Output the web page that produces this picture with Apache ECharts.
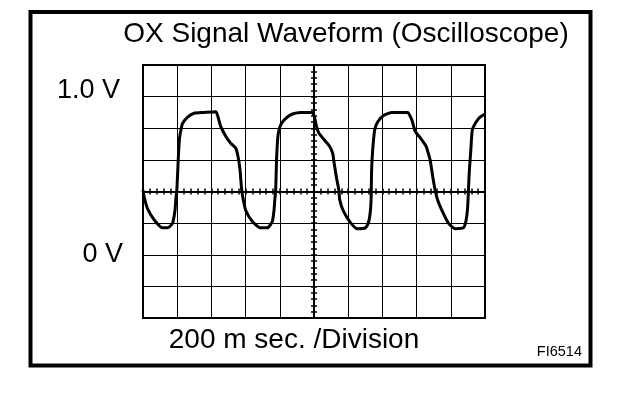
<!DOCTYPE html>
<html>
<head>
<meta charset="utf-8">
<script src="https://cdn.jsdelivr.net/npm/echarts@6/dist/echarts.min.js"></script>
<style>
html,body{margin:0;padding:0;background:#fff;}
#chart{width:624px;height:396px;}
</style>
</head>
<body>
<div id="chart"></div>
<script>
// ---- data ----
const titleText = 'OX Signal Waveform (Oscilloscope)';
const xCaption = '200 m sec. /Division';
const figId = 'FI6514';
const yLabelValues = [0, 1.0];
const yLabelTexts = ['0 V', '1.0 V'];
const timeMs = [0,8,27,66,115,144,173,187,192,198,
  206,213,222,231,261,299,357,426,
  439,455,484,513,542,556,567,577,
  586,601,640,688,727,756,766,771,776,
  781,789,801,824,863,921,990,
  1003,1015,1028,1057,1092,1110,1115,1131,1145,
  1150,1170,1209,1252,1300,1320,1330,1334,1335,
  1337,1343,1355,1372,1407,1456,1544,
  1553,1573,1592,1621,1656,1669,1679,1695,1708,
  1722,1748,1786,1825,1873,1888,1897,1901,1903,
  1909,1917,1926,1948,1971,2000];
const volts = [0.41,0.36,0.29,0.22,0.17,0.17,0.20,0.28,0.35,0.41,
  0.60,0.73,0.79,0.83,0.87,0.895,0.90,0.905,
  0.87,0.81,0.75,0.705,0.675,0.62,0.54,0.41,
  0.35,0.28,0.21,0.17,0.17,0.21,0.28,0.35,0.41,
  0.60,0.75,0.81,0.85,0.885,0.90,0.90,
  0.87,0.81,0.77,0.73,0.685,0.64,0.60,0.49,0.41,
  0.35,0.28,0.21,0.165,0.17,0.21,0.28,0.35,0.41,
  0.54,0.66,0.79,0.84,0.88,0.90,0.90,
  0.895,0.85,0.78,0.74,0.685,0.64,0.60,0.49,0.41,
  0.35,0.28,0.20,0.165,0.17,0.21,0.28,0.35,0.41,
  0.54,0.66,0.79,0.84,0.87,0.89];

const FONT = 'Liberation Sans';
const chart = echarts.init(document.getElementById('chart'), null, {renderer: 'canvas'});
const gridBox = {left: 143, top: 65, width: 342, height: 253};

function yLabel(v) {
  for (let i = 0; i < yLabelValues.length; i++) {
    if (Math.abs(v - yLabelValues[i]) < 1e-6) {
      return i === 1 ? '{up|' + yLabelTexts[i] + '}' : '{base|' + yLabelTexts[i] + '}';
    }
  }
  return '';
}

const centerAxisCommon = {
  axisLabel: {show: false},
  splitLine: {show: false},
  interval: 1
};

chart.setOption({
  animation: false,
  backgroundColor: '#fff',
  grid: [
    Object.assign({show: true, borderColor: '#000', borderWidth: 2, backgroundColor: 'transparent'}, gridBox),
    Object.assign({show: false}, gridBox),
    Object.assign({show: false}, gridBox)
  ],
  xAxis: [
    {type: 'value', gridIndex: 0, min: 0, max: 2000, interval: 200,
      axisLine: {show: false, onZero: false}, axisTick: {show: false}, axisLabel: {show: false},
      splitLine: {show: true, lineStyle: {color: '#000', width: 1}}},
    Object.assign({type: 'value', gridIndex: 1, min: -25, max: 25,
      axisLine: {show: true, onZero: true, lineStyle: {color: '#000', width: 2}},
      axisTick: {show: true, inside: true, length: 3, lineStyle: {color: '#000', width: 1.5}}}, centerAxisCommon),
    Object.assign({type: 'value', gridIndex: 2, min: -25, max: 25,
      axisLine: {show: false, onZero: true},
      axisTick: {show: true, inside: false, length: 3, lineStyle: {color: '#000', width: 1.5}}}, centerAxisCommon)
  ],
  yAxis: [
    {type: 'value', gridIndex: 0, min: -0.4, max: 1.2, interval: 0.2,
      axisLine: {show: false, onZero: false}, axisTick: {show: false},
      splitLine: {show: true, lineStyle: {color: '#000', width: 1}},
      axisLabel: {show: true, margin: 20, formatter: yLabel, color: '#000',
        fontFamily: FONT, fontSize: 27,
        rich: {
          up: {fontFamily: FONT, fontSize: 27, color: '#000', padding: [0, 3, 12, 0]},
          base: {fontFamily: FONT, fontSize: 27, color: '#000'}
        }}},
    Object.assign({type: 'value', gridIndex: 1, min: -20, max: 20,
      axisLine: {show: true, onZero: true, lineStyle: {color: '#000', width: 2}},
      axisTick: {show: true, inside: true, length: 3, lineStyle: {color: '#000', width: 1.5}}}, centerAxisCommon),
    Object.assign({type: 'value', gridIndex: 2, min: -20, max: 20,
      axisLine: {show: false, onZero: true},
      axisTick: {show: true, inside: false, length: 3, lineStyle: {color: '#000', width: 1.5}}}, centerAxisCommon)
  ],
  series: [{
    type: 'line',
    xAxisIndex: 0, yAxisIndex: 0,
    data: timeMs.map((t, i) => [t, volts[i]]),
    showSymbol: false,
    smooth: 0.2,
    clip: true,
    lineStyle: {color: '#000', width: 3},
    z: 5
  }],
  graphic: [
    {type: 'rect', shape: {x: 30.5, y: 12, width: 560, height: 353.5},
      style: {fill: 'none', stroke: '#000', lineWidth: 4}},
    {type: 'text', x: 346, y: 34,
      style: {text: titleText, fontFamily: FONT, fontSize: 28, fill: '#000', align: 'center', verticalAlign: 'middle'}},
    {type: 'text', x: 294, y: 340,
      style: {text: xCaption, fontFamily: FONT, fontSize: 28, fill: '#000', align: 'center', verticalAlign: 'middle'}},
    {type: 'text', x: 582, y: 352,
      style: {text: figId, fontFamily: FONT, fontSize: 14.5, fill: '#000', align: 'right', verticalAlign: 'middle'}}
  ]
});
</script>
</body>
</html>
